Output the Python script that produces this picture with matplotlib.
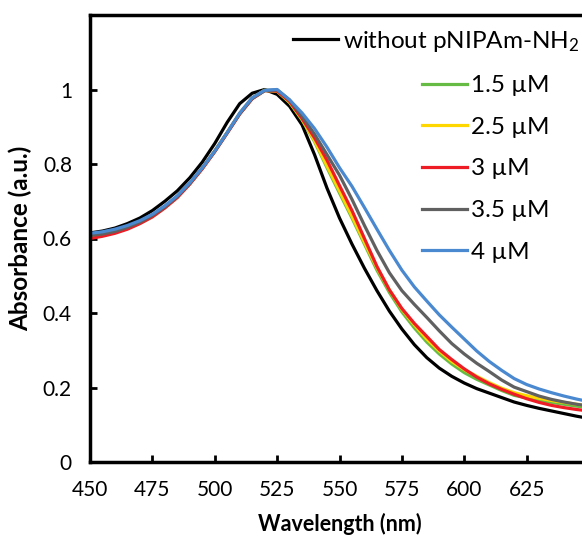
import numpy as np
import matplotlib
matplotlib.use('Agg')
import matplotlib.pyplot as plt

plt.rcParams['font.family'] = ['Lato', 'DejaVu Sans']
plt.rcParams['mathtext.fontset'] = 'custom'
plt.rcParams['mathtext.rm'] = 'Lato'
plt.rcParams['mathtext.it'] = 'Lato:italic'

# wavelength grid (nm)
wavelength = list(range(450, 655, 5))

# normalised absorbance
a_without = [.615, .620, .628, .640, .655, .675, .700, .728, .763, .805, .855, .912, .962, .990, 1.000,
             .987, .955, .905, .825, .735, .655, .585, .520, .460, .405, .357, .315, .280, .252, .230,
             .212, .197, .185, .173, .161, .152, .144, .137, .130, .123, .117]
a_15 = [.603, .608, .616, .627, .641, .659, .683, .711, .747, .788, .834, .884, .935, .976, .997,
        .995, .965, .918, .860, .790, .722, .655, .585, .515, .455, .403, .360, .322, .290, .263,
        .240, .222, .207, .192, .179, .172, .165, .160, .155, .150, .146]
a_25 = [.605, .609, .617, .628, .642, .660, .684, .712, .748, .789, .835, .885, .936, .977, .998,
        .996, .966, .920, .863, .795, .728, .660, .590, .522, .462, .410, .368, .330, .298, .270,
        .248, .230, .213, .198, .186, .178, .171, .165, .160, .155, .151]
a_3 = [.600, .606, .614, .625, .640, .658, .682, .710, .746, .787, .833, .883, .934, .975, .997,
       .996, .968, .922, .870, .810, .742, .675, .600, .525, .462, .412, .372, .337, .302, .275,
       .250, .228, .210, .195, .182, .170, .160, .152, .146, .141, .137]
a_35 = [.608, .612, .619, .630, .644, .662, .685, .713, .748, .789, .834, .884, .935, .976, .997,
        .999, .972, .928, .880, .825, .770, .705, .635, .568, .508, .460, .423, .388, .352, .318,
        .290, .265, .243, .220, .201, .189, .177, .168, .161, .155, .150]
a_4 = [.614, .618, .625, .635, .648, .665, .688, .715, .750, .790, .835, .885, .937, .978, .998,
       1.000, .972, .937, .895, .845, .790, .740, .683, .625, .568, .515, .470, .432, .395, .362,
       .330, .298, .270, .246, .224, .208, .196, .186, .177, .169, .162]

labels = ['1.5 µM', '2.5 µM', '3 µM', '3.5 µM', '4 µM']
colors = ['#66bb44', '#ffd700', '#ee1c25', '#606060', '#4a89d0']
series = [a_15, a_25, a_3, a_35, a_4]

fig = plt.figure(figsize=(5.82, 5.39), dpi=100)
ax = fig.add_axes([90/582, 77/539, 499/582, 447/539])

l0, = ax.plot(wavelength, a_without, color='black', lw=2.3, label=r'without pNIPAm-NH$_2$')
handles = []
for y, c, lab in zip(series, colors, labels):
    h, = ax.plot(wavelength, y, color=c, lw=2.3, label=lab)
    handles.append(h)

ax.set_xlim(450, 650)
ax.set_ylim(0, 1.2)
ax.set_xticks(list(range(450, 650, 25)))
ax.set_yticks([0, 0.2, 0.4, 0.6, 0.8, 1.0])
ax.set_yticklabels(['0', '0.2', '0.4', '0.6', '0.8', '1'])
ax.tick_params(direction='in', length=5, width=2, labelsize=15, pad=13)
for s in ax.spines.values():
    s.set_linewidth(2.5)

ax.set_xlabel('Wavelength (nm)', fontsize=15.5, fontweight='bold', labelpad=9)
ax.set_ylabel('Absorbance (a.u.)', fontsize=17.5, fontweight='bold', labelpad=8)

leg1 = fig.legend(handles=[l0], loc='upper left', bbox_to_anchor=(293/582, 1 - 29/539),
                  frameon=False, fontsize=17.5, handlelength=1.85, handletextpad=0.2,
                  borderpad=0, borderaxespad=0)
leg2 = fig.legend(handles=handles, loc='upper left', bbox_to_anchor=(422/582, 1 - 75/539),
                  frameon=False, fontsize=17.5, handlelength=1.85, handletextpad=0.15,
                  labelspacing=0.85, borderpad=0, borderaxespad=0)

fig.savefig('out.png', dpi=100)
